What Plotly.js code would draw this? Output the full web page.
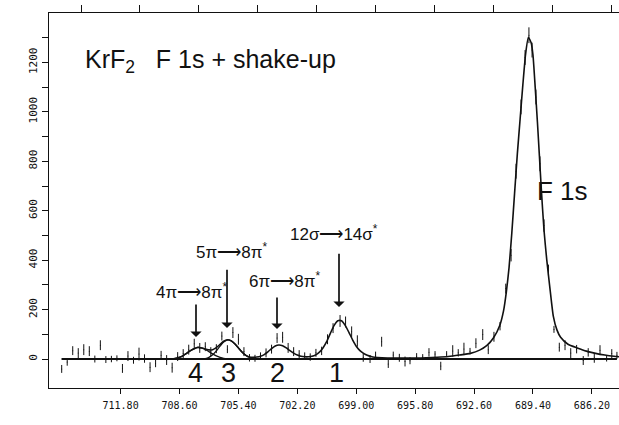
<!DOCTYPE html>
<html>
<head>
<meta charset="utf-8">
<script src="https://cdn.plot.ly/plotly-3.0.1.min.js"></script>
<style>html,body{margin:0;padding:0;background:#fff;}#chart{width:619px;height:425px;}</style>
</head>
<body>
<div id="chart"></div>
<script>
// ---- data ----
// measured points (binding energy eV, counts, error half-length)
var dataBE = [715.0, 714.7, 714.4, 714.1, 713.8, 713.5, 713.2, 712.9, 712.6, 712.3,
  712.0, 711.7, 711.4, 711.1, 710.8, 710.5, 710.2, 709.9, 709.6, 709.3,
  709.0, 708.7, 708.4, 708.1, 707.8, 707.5, 707.2, 706.9, 706.6, 706.3,
  706.0, 705.7, 705.4, 705.1, 704.8, 704.5, 704.2, 703.9, 703.6, 703.3,
  703.0, 702.7, 702.4, 702.1, 701.8, 701.5,
  701.19, 700.88, 700.56, 700.26, 699.88, 699.58, 699.25, 698.94, 698.62, 698.25,
  697.95, 697.62, 697.26, 696.99, 696.66, 696.35, 696.08, 695.72, 695.39, 695.05,
  694.72, 694.41, 694.09, 693.76, 693.46, 693.15, 692.82, 692.5, 692.13, 691.83,
  691.52, 691.19, 690.88, 690.59, 690.32, 690.05, 689.83, 689.62, 689.45, 689.24,
  689.02, 688.8, 688.56, 688.26, 687.97, 687.66, 687.35, 687.03, 686.67, 686.4,
  686.07, 685.76, 685.4, 685.12, 684.84];
var dataCounts = [-40, -12, 34, 24, 38, 32, 0, 56, -2, 0,
  3, -38, 12, -5, 20, 2, -33, -18, 15, -4,
  -35, 10, 22, 38, 62, 45, 50, 30, 42, 93,
  40, 107, 80, 30, 5, 3, 12, 25, 40, 85,
  88, 45, 30, 20, 12, 8,
  25, 33, 80, 125, 154, 150, 110, 73, 6, 0,
  15, 70, -20, 16, 5, -10, -7, 10, 8, 27,
  20, -28, 20, 33, 25, 41, 32, 64, 99, 38,
  90, 133, 285, 420, 760, 1020, 1220, 1310, 1250, 1060,
  790, 540, 360, 120, 48, 56, 24, 40, -6, 27,
  4, 36, 3, 22, 15];
var dataErr = [16, 15, 18, 20, 22, 20, 14, 20, 14, 13,
  12, 18, 20, 14, 26, 17, 20, 15, 18, 20,
  20, 18, 18, 20, 20, 20, 18, 18, 18, 18,
  16, 22, 22, 18, 15, 14, 15, 18, 18, 20,
  22, 20, 18, 16, 15, 15,
  16, 17, 20, 20, 24, 22, 22, 23, 17, 16,
  15, 20, 16, 14, 16, 20, 14, 14, 12, 17,
  12, 17, 12, 23, 15, 25, 13, 20, 22, 18,
  20, 17, 20, 25, 30, 30, 30, 32, 30, 30,
  30, 25, 22, 14, 18, 20, 20, 17, 18, 17,
  19, 20, 13, 18, 14];

// fitted envelope
var fitBE = [715.0, 709.2, 709.0, 708.8, 708.6, 708.4, 708.2, 708.0, 707.8, 707.6,
  707.4, 707.2, 707.0, 706.8, 706.6, 706.4, 706.2, 706.0, 705.8, 705.6,
  705.4, 705.2, 705.0, 704.8, 704.6, 704.4, 704.2, 704.0, 703.8, 703.6,
  703.4, 703.2, 703.0, 702.8, 702.6, 702.4, 702.2, 702.0, 701.8, 701.6,
  701.4, 701.2, 701.0, 700.8, 700.6, 700.4, 700.2, 700.0, 699.8, 699.6,
  699.4, 699.2, 699.0, 698.8, 698.6, 698.4, 698.2, 698.0, 697.6, 697.0,
  696.4, 695.8, 695.2, 694.6, 694.0, 693.4, 692.8, 692.3, 691.9, 691.55,
  691.2, 691.0, 690.85, 690.7, 690.55, 690.4, 690.25, 690.1, 689.95, 689.8,
  689.65, 689.5, 689.4, 689.28, 689.16, 689.05, 688.95, 688.8, 688.65, 688.47,
  688.3, 688.1, 687.9, 687.5, 687.0, 686.5, 686.0, 685.5, 685.0, 684.7];
var fitCounts = [0, 0, 0, 3, 7, 14, 24, 34, 42, 47,
  45, 41, 37, 38, 46, 59, 72, 78, 74, 62,
  45, 28, 15, 8, 7, 8, 11, 18, 29, 42,
  53, 57, 54, 45, 34, 24, 16, 11, 9, 9,
  11, 17, 28, 46, 71, 105, 136, 155, 155, 136,
  108, 78, 52, 34, 23, 15, 10, 7, 5, 4,
  4, 4, 5, 7, 10, 16, 23, 36, 55, 85,
  137, 195, 270, 370, 510, 670, 830, 970, 1110, 1235,
  1302, 1280, 1230, 1100, 960, 820, 690, 520, 400, 280,
  175, 118, 88, 60, 45, 32, 23, 16, 11, 9];

// shake-up components 4 and 3
var peak4BE = [709.0, 708.8, 708.6, 708.4, 708.2, 708.0, 707.8, 707.6, 707.4, 707.2,
  707.0, 706.8, 706.6, 706.4, 706.2, 706.0, 705.8];
var peak4Counts = [0, 3, 7, 14, 24, 34, 42, 47, 45, 39, 30, 21, 13, 7, 3, 1, 0];
var peak3BE = [707.4, 707.2, 707.0, 706.8, 706.6, 706.4, 706.2, 706.0, 705.8, 705.6,
  705.4, 705.2, 705.0, 704.8, 704.6, 704.4];
var peak3Counts = [0, 2, 7, 17, 33, 52, 69, 77, 74, 62, 45, 28, 15, 7, 3, 0];

// axis ticks
var xTickVals = [711.8, 708.6, 705.4, 702.2, 699.0, 695.8, 692.6, 689.4, 686.2];
var xTickText = ['711.80', '708.60', '705.40', '702.20', '699.00', '695.80', '692.60', '689.40', '686.20'];
var yTickVals = [0, 100, 200, 300, 400, 500, 600, 700, 800, 900, 1000, 1100, 1200, 1300];
var yTickText = ['0', '', '200', '', '400', '', '600', '', '800', '', '1000', '', '1200', ''];

// ---- pixel calibration helpers (for label placement) ----
var X0 = 711.8, PX0 = 120.6, PXEV = 18.41, PY0 = 359, PYC = 0.2475;
function X(px) { return X0 - (px - PX0) / PXEV; }
function Y(py) { return (PY0 - py) / PYC; }

var black = '#111';
var mono = 'DejaVu Sans Mono, monospace';
var sans = 'Liberation Sans, Arial, sans-serif';

var traces = [
  { x: [dataBE[0], dataBE[dataBE.length - 1]], y: [0, 0], mode: 'lines',
    line: { color: black, width: 2 }, hoverinfo: 'skip' },
  { x: dataBE, y: dataCounts, mode: 'markers', marker: { size: 1, color: black },
    error_y: { type: 'data', array: dataErr, visible: true, thickness: 1, width: 0, color: black } },
  { x: peak4BE, y: peak4Counts, mode: 'lines', line: { color: black, width: 1.3, shape: 'spline', smoothing: 0.6 } },
  { x: peak3BE, y: peak3Counts, mode: 'lines', line: { color: black, width: 1.3, shape: 'spline', smoothing: 0.6 } },
  { x: fitBE, y: fitCounts, mode: 'lines', line: { color: black, width: 1.6, shape: 'spline', smoothing: 0.5 } },
  { x: [X(49), X(619)], y: [Y(200), Y(200)], xaxis: 'x2', mode: 'lines', line: { width: 0, color: 'rgba(0,0,0,0)' }, hoverinfo: 'skip' }
];

function lbl(text, px, py, size, font, extra) {
  var a = { text: text, x: X(px), y: Y(py), xref: 'x', yref: 'y', showarrow: false,
    font: { family: font || sans, size: size, color: black }, xanchor: 'center', yanchor: 'middle' };
  if (extra) for (var k in extra) a[k] = extra[k];
  return a;
}
function arrow(px, pyTail, pyTip) {
  return { text: '', x: X(px), y: Y(pyTip), ax: X(px), ay: Y(pyTail), axref: 'x', ayref: 'y',
    xref: 'x', yref: 'y', showarrow: true, arrowhead: 1, arrowsize: 1.1, arrowwidth: 1.7, arrowcolor: black };
}

var annotations = [
  lbl('KrF<sub>2</sub>   F 1s + shake-up', 83, 61, 25, sans, { xanchor: 'left' }),
  lbl('F 1s', 562.5, 191, 26),
  lbl('4', 195, 373, 27), lbl('3', 228, 373, 27), lbl('2', 277, 373, 27), lbl('1', 336, 373, 27),
  lbl('12σ⟶14σ<sup>*</sup>', 334, 233, 17),
  lbl('5π⟶8π<sup>*</sup>', 231, 251, 17),
  lbl('6π⟶8π<sup>*</sup>', 284, 280, 17),
  lbl('4π⟶8π<sup>*</sup>', 191, 291, 17),
  arrow(339, 252, 307), arrow(227, 268, 328), arrow(277, 296, 329), arrow(196, 303, 337),
  lbl('BINDING ENERGY / eV', 296, 418, 13, mono),
  lbl('NUMBER OF COUNTS', 21.4, 190, 13, mono, { textangle: -90 })
];

var layout = {
  width: 619, height: 425,
  margin: { l: 49, r: 0, t: 12.5, b: 37, pad: 0 },
  paper_bgcolor: '#fff', plot_bgcolor: '#fff',
  showlegend: false,
  xaxis: { range: [X(49), X(619)], showgrid: false, zeroline: false, showline: true, linecolor: black, linewidth: 1.2,
    ticks: 'outside', ticklen: 5, tickcolor: black, tickvals: xTickVals, ticktext: xTickText,
    tickfont: { family: mono, size: 10, color: black }, ticklabelstandoff: 3 },
  xaxis2: { overlaying: 'x', side: 'top', range: [X(49), X(619)], showgrid: false, zeroline: false,
    showline: true, linecolor: black, linewidth: 1.2, ticks: 'outside', ticklen: 7, tickcolor: black,
    tick0: 713.95, dtick: 3.2, showticklabels: false },
  yaxis: { range: [Y(388), Y(12.5)], showgrid: false, zeroline: false, showline: true, linecolor: black, linewidth: 1.2,
    ticks: 'outside', ticklen: 6, tickcolor: black, tickvals: yTickVals, ticktext: yTickText, tickangle: -90,
    tickfont: { family: mono, size: 11, color: black } },
  annotations: annotations
};

Plotly.newPlot('chart', traces, layout, { staticPlot: true, displayModeBar: false });
</script>
</body>
</html>
